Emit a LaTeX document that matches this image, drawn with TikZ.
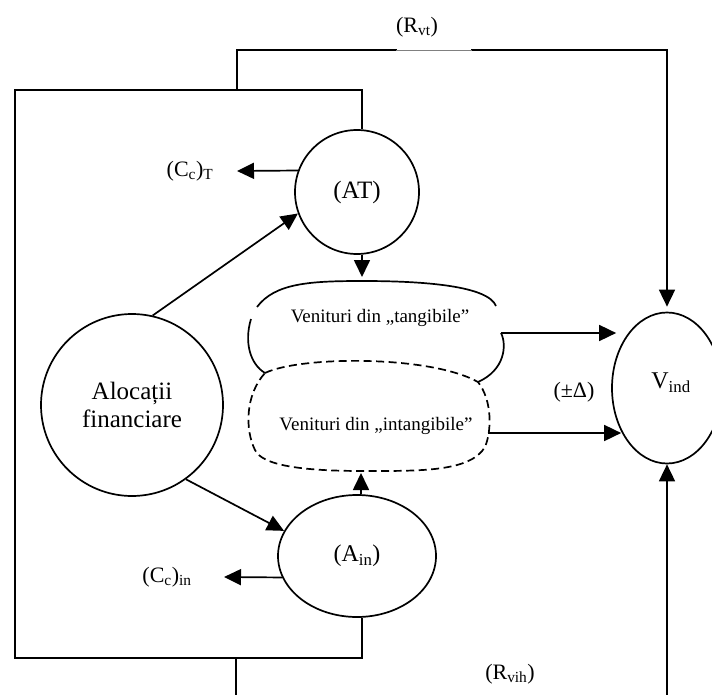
\documentclass[tikz,border=0pt]{standalone}
\usepackage{fontspec}
\setmainfont{Liberation Serif}
\usetikzlibrary{arrows.meta,shapes.geometric,calc}
\begin{document}
\begin{tikzpicture}[x=1pt,y=-1pt, line width=1.7pt,
  arr/.style={-{Triangle[length=17pt,width=16pt]}},
  big/.style={font=\fontsize{24}{28}\selectfont},
  lab/.style={font=\fontsize{22}{26}\selectfont, inner sep=0pt},
  ven/.style={font=\fontsize{19}{22}\selectfont, inner sep=0pt},
  dsh/.style={dash pattern=on 8pt off 4.5pt}]
\useasboundingbox (0,0) rectangle (712,695);
\clip (0,0) rectangle (712,695);
% nodes
\node[circle,draw,minimum size=124pt,inner sep=0pt,font=\fontsize{25}{28}\selectfont] (AT) at (357,192) {(AT)};
\node[circle,draw,minimum size=182pt,inner sep=0pt,align=center,font=\fontsize{25}{28}\selectfont] (Aloc) at (132,405) {Alocații\\financiare};
\node[ellipse,draw,minimum width=158pt,minimum height=122pt,inner sep=0pt,big] (Ain) at (357,556) {(A\textsubscript{in})};
\node[ellipse,draw,minimum width=110pt,minimum height=151pt,inner sep=0pt] (Vind) at (667,388) {};
\node[big,inner sep=0pt] (VindT) at (671,383) {V\textsubscript{ind}};
\node[ven] (tanT) at (380,318) {Venituri din „tangibile”};
\node[ven] (intT) at (376,426) {Venituri din „intangibile”};
\node[lab] (CcT) at (190,171) {(C\textsubscript{c})\textsubscript{T}};
\node[lab] (Ccin) at (167,577) {(C\textsubscript{c})\textsubscript{in}};
\node[lab] (Rvt) at (417,27) {(R\textsubscript{vt})};
\node[lab] (Rvih) at (510,674) {(R\textsubscript{vih})};
\node[lab] (delta) at (574,392) {(±Δ)};
% coordinates
\coordinate (tanTop) at (362,277);
\coordinate (tanR) at (501,333);
\coordinate (intR) at (488,433);
\coordinate (intB) at (361,473);
\coordinate (tR) at (362,90);
\coordinate (bR) at (362,658);
\coordinate (tl) at (237,90);
\coordinate (bl) at (236,658);
\coordinate (br) at (667,695);
\coordinate (cTtip) at (237,171);
\coordinate (cInTip) at (224,577);
% tangible bracket
\draw (257,307) .. controls (275,283) and (310,281) .. (363,281) .. controls (425,281) and (488,286) .. (496,306);
\draw (251,319) .. controls (244,342) and (250,364) .. (265,373);
\draw (tanR) .. controls (507,345) and (505,370) .. (478,382);
% intangible dashed blob
\draw[dsh] (265,373) .. controls (300,356) and (430,355) .. (478,382)
  .. controls (492,400) and (492,430) .. (485,447)
  .. controls (470,472) and (420,471) .. (363,471)
  .. controls (300,471) and (262,465) .. (255,450)
  .. controls (245,430) and (245,395) .. (265,373) -- cycle;
% outer box
\draw (tR |- AT.north) -- (tR) -- (15,90) -- (15,658) -- (bR) -- (bR |- Ain.south);
% arrows
\draw[arr] (tanTop |- AT.south) -- (tanTop);
\draw[arr] (intB |- Ain.north) -- (intB);
\draw[arr] (AT.160) -- (cTtip);
\draw[arr] (Ain.196) -- (cInTip);
\draw[arr] (Aloc.77) -- (AT.200);
\draw[arr] (Aloc.306) -- (Ain.161);
\draw[arr] (tanR) -- ([xshift=5pt]tanR -| Vind.west);
\draw[arr] (intR) -- ([xshift=10pt]intR -| Vind.west);
% feedback loops
\draw[arr] (tl) -- ++(0,-40) -| ([yshift=5pt]Vind.north);
\draw[white,line width=2.4pt] (397,50) -- (471,50);
\draw[gray,line width=0.7pt] (396,50) -- (472,50);
\draw (bl) -- (236,695);
\draw[arr] (br) -- (Vind.south);
\end{tikzpicture}
\end{document}
